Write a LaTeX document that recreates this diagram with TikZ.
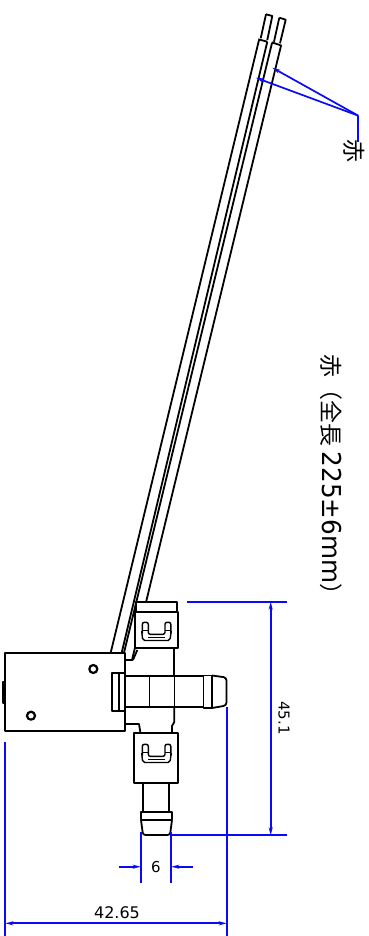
\documentclass[tikz,border=0pt]{standalone}
\usepackage{fontspec}
\usepackage{graphicx}
\setmainfont{DejaVu Sans}
\newfontfamily\cjk{Noto Sans CJK JP}
\usetikzlibrary{arrows.meta}
\definecolor{dimblue}{RGB}{10,10,245}
\tikzset{
  part/.style={draw=black,line width=1.8pt,line join=round,fill=white},
  edge/.style={draw=black,line width=1.8pt,line join=round},
  thin edge/.style={draw=black,line width=1pt},
  dim/.style={draw=dimblue,line width=1.7pt},
  dimarrow/.style={draw=dimblue,line width=1.7pt,-{Stealth[length=8pt,width=4pt]}},
  dimtext/.style={inner sep=0pt,font=\fontsize{15}{15}\selectfont},
}
\newcommand{\clipglyph}[1]{%
  \begin{scope}[yshift=#1pt]
    \draw[thin edge,line width=1.4pt,rounded corners=2pt] (142.3,633.5)--(142.3,622.3)--(148.3,622.3)--(148.3,634.3)--(165,634.3)--(165,622.3)--(170.8,622.3)--(170.8,633.5);
    \draw[thin edge,line width=1.4pt,rounded corners=2pt] (141.7,631)--(142.7,640.5)--(170,640.5)--(171.2,631);
    \draw[thin edge,line width=.8pt] (142.3,630)--(148.3,630) (165,630)--(170.8,630) (148.3,637.5)--(165,637.5);
  \end{scope}}
\begin{document}
\begin{tikzpicture}[x=1pt,y=-1pt]
\useasboundingbox[fill=white] (0,0) rectangle (369,936);
% wires
\draw[edge] (266,14.3)--(272.3,16)--(267.3,40) (266,14.3)--(260.7,38.3);
\draw[edge] (279.3,17.7)--(285.7,19.7)--(280,43.3) (279.3,17.7)--(274,41.7);
\draw[edge] (258.3,39.3)--(267.3,41.7) (271.7,42.3)--(281.7,45.7);
\draw[edge] (259,40)--(110.7,652.7);
\draw[edge] (267.3,41.7)--(121.7,652.7);
\draw[edge] (272,43)--(124,652.7);
\draw[edge] (281,45.7)--(132,660);
% neck and stem
\draw[edge] (125,660)--(133,660);
\draw[edge] (133,660)--(137.3,650);
\draw[edge] (174.3,648)--(174.3,676);
\draw[edge] (125,724)--(139,724)--(140.3,732);
\draw[edge] (174.3,707)--(174.3,722)--(172,726)--(172,732);
% side tube
\draw[edge] (125,676)--(203,676) (125,707.3)--(203,707.3);
\draw[edge] (149.5,676)--(149.5,707.3) (174.5,676)--(174.5,707.3);
\draw[part] (203.5,675.5) rectangle (212,708);
\draw[edge,line width=2pt] (212,675.5)--(212,708);
\draw[edge,rounded corners=3pt] (212,675.5)--(226.5,677.5)--(226.5,705.5)--(212,708);
% body
\draw[part] (5.3,652.7) rectangle (125,730.7);
\draw[part] (3,681.7) rectangle (5,703);
\draw[part,line width=2.2pt] (93.3,669) circle (4pt);
\draw[part,line width=2.2pt] (31,715.7) circle (4pt);
\draw[part] (111.7,673.3) rectangle (125,710.7);
\draw[edge] (119,673.3)--(119,710.7);
% upper clip
\draw[part] (136,601.7) rectangle (177,611.7);
\draw[part] (135.3,611.7) rectangle (178.3,648.3);
\clipglyph{0}
% lower clip
\draw[part] (134,732.7) rectangle (178.3,783.3);
\clipglyph{-122}
% lower tube
\draw[edge] (142.7,783.3)--(142.7,811.7) (169.3,783.3)--(169.3,811.7);
\draw[part] (140.7,811.7) rectangle (172.3,819.5);
\draw[edge,line width=2pt] (140.7,819.5)--(172.3,819.5);
\draw[edge,rounded corners=2.5pt] (141,820)--(143,835)--(170,835)--(172,820);
% leaders
\coordinate (apex) at (358.3,115.7);
\coordinate (tipa) at (272.3,67.7);
\coordinate (tipb) at (255.7,77.7);
\node[inner sep=0pt,rotate=-90,font=\fontsize{23}{23}\selectfont\cjk] (aka) at (354.5,151.5) {赤};
\draw[dim] (358.3,141.7)--(apex);
\draw[dimarrow] (apex)--(tipa);
\draw[dimarrow] (apex)--(tipb);
% long label
\node[inner sep=0pt,rotate=-90] (note) at (331,480.5) {\fontsize{23}{23}\selectfont{\cjk 赤（全長}\hspace{5pt}\scalebox{.95}[1]{\fontsize{26}{26}\selectfont 225±6mm}{\cjk ）}};
% dimension 42.65
\coordinate (a1) at (5.3,741.7);\coordinate (a2) at (5.3,936);
\coordinate (b1) at (226.7,707.3);\coordinate (b2) at (226.7,936);
\draw[dim] (a1)--(a2) (b1)--(b2);
\draw[dimarrow] (123,923.3)--(226.7,923.3);
\draw[dimarrow] (123,923.3)--(5.3,923.3);
\node[dimtext,font=\fontsize{16}{16}\selectfont] (d4265) at (117,913) {42.65};
% dimension 45.1
\coordinate (c1) at (187,601.7);\coordinate (c2) at (287,601.7);
\coordinate (e1) at (171.7,835.3);\coordinate (e2) at (286.7,835.3);
\draw[dim] (c1)--(c2) (e1)--(e2);
\draw[dimarrow] (270.7,720)--(270.7,601.7);
\draw[dimarrow] (270.7,720)--(270.7,835.3);
\node[dimtext,rotate=-90] (d451) at (284,718) {45.1};
% dimension 6
\coordinate (f1) at (140.7,831.7);\coordinate (f2) at (140.7,882.7);
\coordinate (g1) at (171.3,831.7);\coordinate (g2) at (171.3,882.7);
\draw[dim] (f1)--(f2) (g1)--(g2);
\draw[dimarrow] (119,866.7)--(140.7,866.7);
\draw[dimarrow] (193.3,866.7)--(171.3,866.7);
\node[dimtext] (d6) at (156,867) {6};
\end{tikzpicture}
\end{document}
